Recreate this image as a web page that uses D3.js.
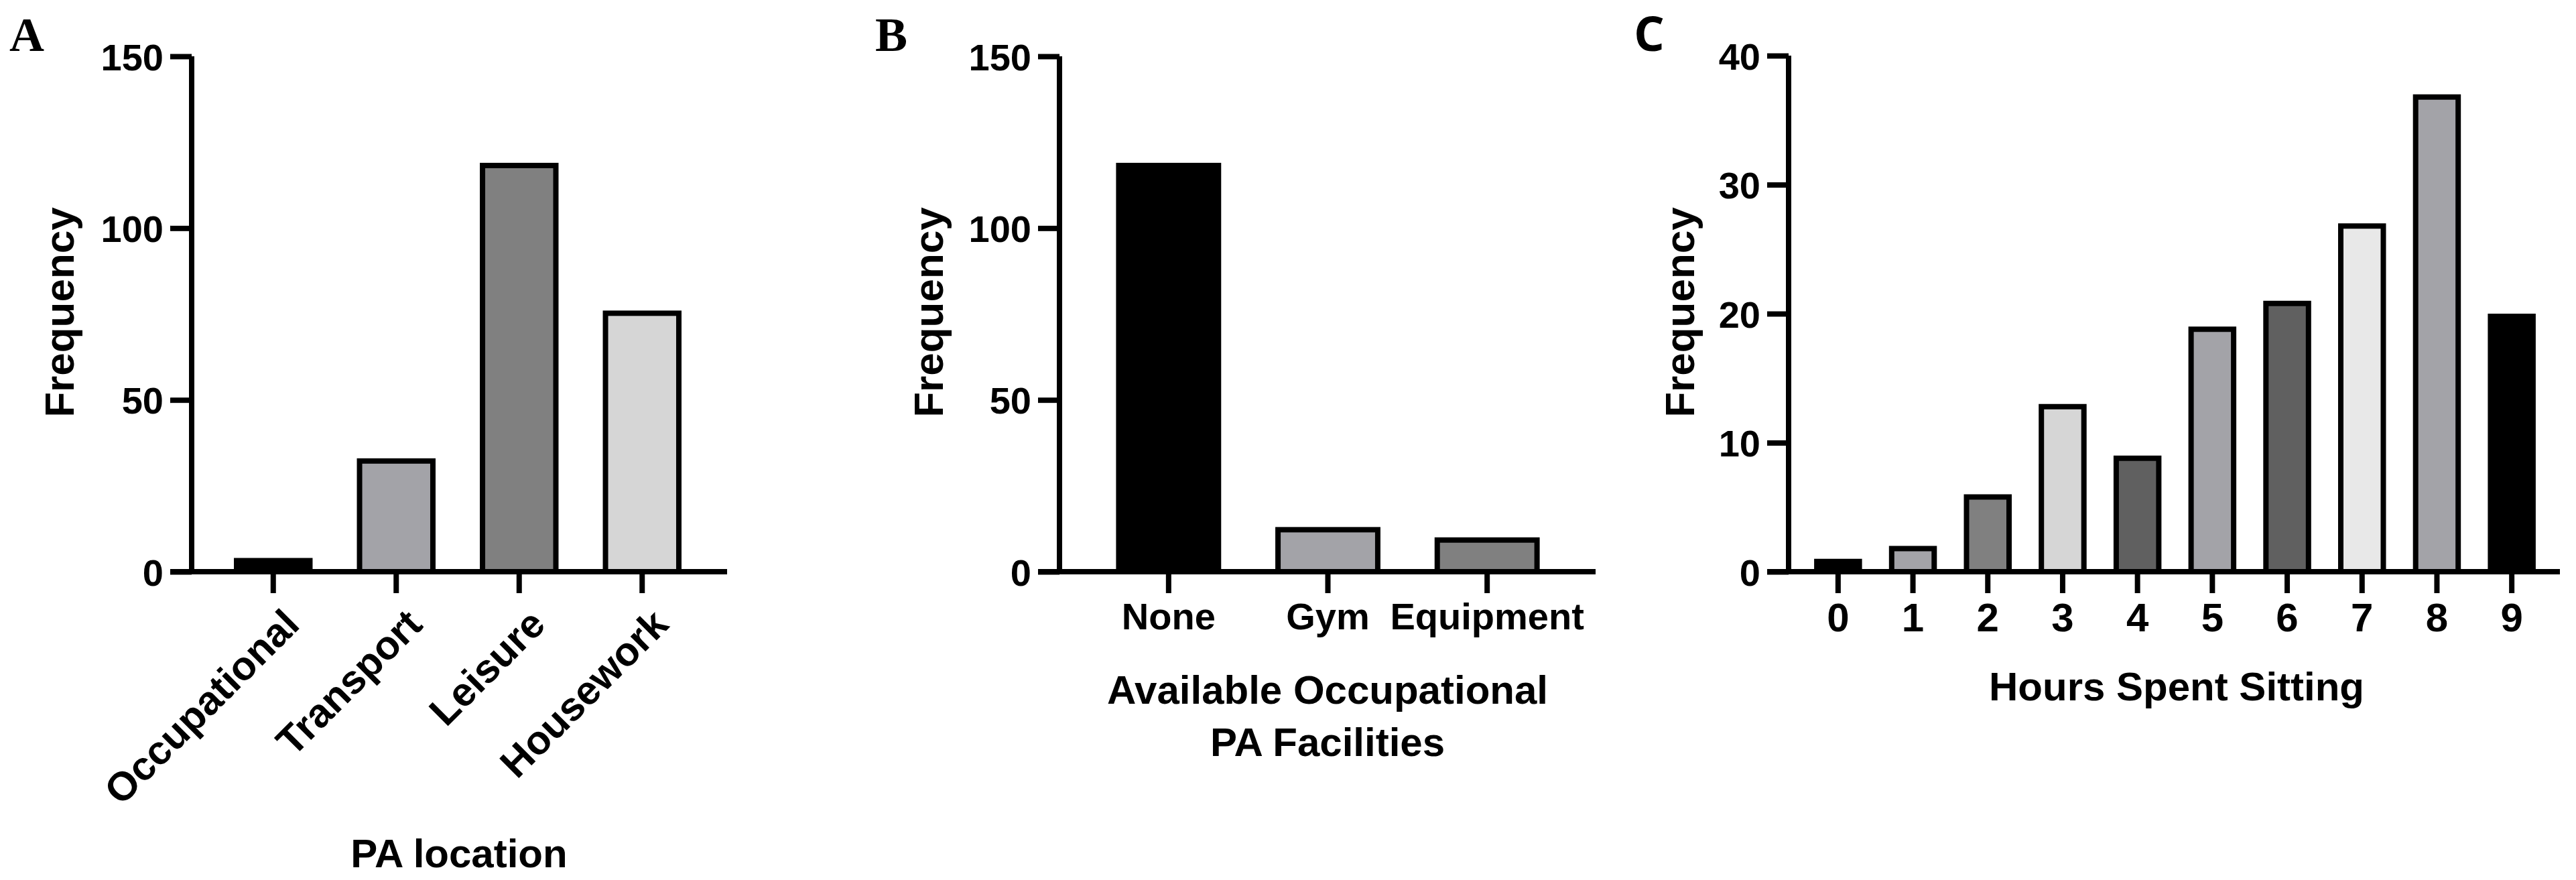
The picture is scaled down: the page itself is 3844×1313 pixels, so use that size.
<!DOCTYPE html>
<html>
<head>
<meta charset="utf-8">
<script src="https://cdn.jsdelivr.net/npm/d3@7"></script>
<style>
body { margin: 0; background: #fff; }
text { font-family: "Liberation Sans", Arial, sans-serif; font-weight: bold; fill: #000; }
</style>
</head>
<body>
<div id="chart"></div>
<script>
var width = 3844;
var height = 1313;

// Panel A data
var locCats = ["Occupational", "Transport", "Leisure", "Housework"];
var locVals = [4, 33, 119, 76];
var locColors = ["#000000", "#a3a3a8", "#808080", "#d6d6d6"];

// Panel B data
var facCats = ["None", "Gym", "Equipment"];
var facVals = [119, 13, 10];
var facColors = ["#000000", "#a3a3a8", "#808080"];

// Panel C data
var sitCats = ["0", "1", "2", "3", "4", "5", "6", "7", "8", "9"];
var sitVals = [1, 2, 6, 13, 9, 19, 21, 27, 37, 20];
var sitColors = ["#000000", "#a3a3a8", "#808080", "#d6d6d6", "#606060",
                 "#a3a3a8", "#606060", "#e8e8e8", "#a3a3a8", "#000000"];

var yTicksAB = [0, 50, 100, 150];
var yTicksC = [0, 10, 20, 30, 40];

var svg = d3.select("#chart").append("svg")
  .attr("width", width).attr("height", height);

var y0 = 853;
var stroke = 8;

// draws one panel; opts hold layout only
function panel(o) {
  var g = svg.append("g");
  var y = d3.scaleLinear().domain([0, o.yMax]).range([y0, o.yTop]);
  var x = d3.scaleBand().domain(o.cats).range(o.xRange).paddingInner(o.pad).paddingOuter(o.pad / 2);

  g.selectAll("rect").data(o.vals).enter().append("rect")
    .attr("x", function(d, i) { return x(o.cats[i]) + stroke / 2; })
    .attr("width", x.bandwidth() - stroke)
    .attr("y", function(d) { return y(d) + stroke / 2; })
    .attr("height", function(d) { return y0 - y(d) - stroke / 2; })
    .attr("fill", function(d, i) { return o.colors[i]; })
    .attr("stroke", "#000").attr("stroke-width", stroke);

  // y axis
  var ya = g.append("g").attr("transform", "translate(" + o.yAxisX + ",0)")
    .call(d3.axisLeft(y).tickValues(o.yTicks).tickSize(32).tickPadding(10));
  ya.select(".domain").attr("stroke-width", stroke).attr("d", "M0," + o.yTop + "V" + y0);
  ya.selectAll(".tick line").attr("stroke-width", stroke);
  ya.selectAll(".tick text").attr("font-size", 56).attr("dy", "0.36em");

  // x axis
  var xa = g.append("g").attr("transform", "translate(0," + y0 + ")")
    .call(d3.axisBottom(x).tickSize(32).tickPadding(14));
  xa.select(".domain").attr("stroke-width", stroke).attr("d", "M" + (o.yAxisX - 32) + ",0H" + o.xEnd);
  xa.selectAll(".tick line").attr("stroke-width", stroke);
  var xt = xa.selectAll(".tick text").attr("font-size", o.xFont);
  if (o.rotate) {
    xt.attr("text-anchor", "end").attr("dy", 0).attr("y", 0)
      .attr("transform", "translate(42,82) rotate(-45)");
  }

  g.append("text").attr("transform", "translate(" + o.freqX + ",466) rotate(-90)")
    .attr("text-anchor", "middle").attr("dy", "0.35em").attr("font-size", 62)
    .text("Frequency");

  o.title.forEach(function(t, i) {
    g.append("text").attr("x", o.titleX).attr("y", o.titleY + i * 78)
      .attr("text-anchor", "middle").attr("font-size", 60).text(t);
  });

  g.append("text").attr("x", o.letterX).attr("y", 76)
    .attr("font-size", 72).style("font-family", o.letterFont).text(o.letter);
}

panel({ cats: locCats, vals: locVals, colors: locColors, yMax: 150, yTop: 84, yTicks: yTicksAB,
  yAxisX: 286, xRange: [316, 1050], pad: 0.36, xEnd: 1085, rotate: true, xFont: 60,
  freqX: 88, title: ["PA location"], titleX: 685, titleY: 1294,
  letter: "A", letterX: 14, letterFont: "Liberation Serif" });

panel({ cats: facCats, vals: facVals, colors: facColors, yMax: 150, yTop: 84, yTicks: yTicksAB,
  yAxisX: 1581, xRange: [1625, 2338], pad: 0.34, xEnd: 2381, rotate: false, xFont: 56,
  freqX: 1385, title: ["Available Occupational", "PA Facilities"], titleX: 1981, titleY: 1050,
  letter: "B", letterX: 1306, letterFont: "Liberation Serif" });

panel({ cats: sitCats, vals: sitVals, colors: sitColors, yMax: 40, yTop: 83, yTicks: yTicksC,
  yAxisX: 2669, xRange: [2687, 3804], pad: 0.36, xEnd: 3820, rotate: false, xFont: 60,
  freqX: 2506, title: ["Hours Spent Sitting"], titleX: 3248, titleY: 1045,
  letter: "C", letterX: 2438, letterFont: "Open Sans" });
</script>
</body>
</html>
